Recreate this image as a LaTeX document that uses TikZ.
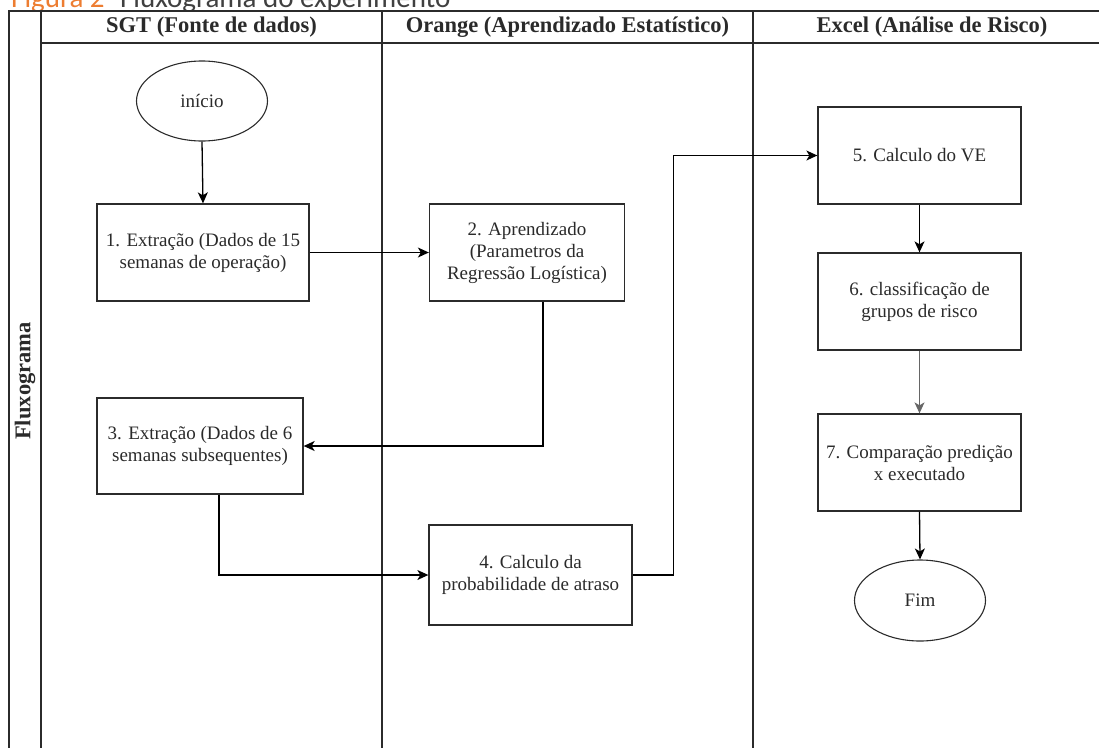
\documentclass[tikz,border=0pt]{standalone}
\usepackage{fontspec}
\setmainfont{Liberation Serif}
\newfontfamily\capfont{Carlito}
\usetikzlibrary{arrows.meta,shapes.geometric}
\definecolor{capor}{HTML}{ED7D31}
\definecolor{capgr}{HTML}{404040}
\definecolor{frame}{HTML}{2B2B2B}
\definecolor{txt}{HTML}{2A2A2A}
\tikzset{
  procbox/.style={draw=frame, line width=1.3pt, rectangle, minimum width=#1, minimum height=97pt, inner sep=0pt, align=center, text=txt, font=\fontsize{19}{22}\selectfont},
  term/.style={draw=frame, line width=1.1pt, ellipse, minimum width=131pt, minimum height=80pt, inner sep=0pt, text=txt, font=\fontsize{19}{22}\selectfont},
  lanehead/.style={font=\bfseries\fontsize{22.5}{26}\selectfont, text=txt, anchor=base, inner sep=0pt},
  lane/.style={draw=frame, line width=1.4pt},
  arr/.style={draw=black, line width=1.3pt, -{Stealth[length=11pt,width=10pt,inset=3pt]}},
}
\begin{document}
\begin{tikzpicture}[x=1pt,y=-1pt]
\useasboundingbox (0,0) rectangle (1099,747);
\clip (0,0) rectangle (1099,747);
% caption
\node[anchor=base west, inner sep=0pt] (cap) at (11,7) {\capfont\fontsize{29}{31}\selectfont\textcolor{capor}{Figura 2}\textcolor{capgr}{ - Fluxograma do experimento}};
% pool frame
\draw[lane] (1110,11) -- (9,11) -- (9,760);
\draw[lane] (41,11) -- (41,760);
\draw[lane] (41,43) -- (1110,43);
\draw[lane] (382,11) -- (382,760);
\draw[lane] (753,11) -- (753,760);
\node[rotate=90, font=\bfseries\fontsize{22.5}{26}\selectfont, text=txt, inner sep=0pt] (pool) at (25,381) {Fluxograma};
% lane headers
\node[lanehead] (h1) at (211.5,32) {SGT (Fonte de dados)};
\node[lanehead] (h2) at (567.5,32) {Orange (Aprendizado Estatístico)};
\node[lanehead] (h3) at (932,32) {Excel (Análise de Risco)};
% nodes
\node[term] (ini) at (202,101) {início};
\node[procbox=212pt] (b1) at (203,252.5) {1. Extração (Dados de 15\\semanas de operação)};
\node[procbox=195pt] (b2) at (527,252.5) {2. Aprendizado\\(Parametros da\\Regressão Logística)};
\node[procbox=206pt, minimum height=96pt] (b3) at (200,446) {3. Extração (Dados de 6\\semanas subsequentes)};
\node[procbox=203pt, minimum height=100pt] (b4) at (530.5,575) {4. Calculo da\\probabilidade de atraso};
\node[procbox=203pt] (b5) at (919.5,155.5) {5. Calculo do VE};
\node[procbox=203pt] (b6) at (919.5,301.5) {6. classificação de\\grupos de risco};
\node[procbox=203pt] (b7) at (919.5,462.5) {7. Comparação predição\\x executado};
\node[term, minimum height=81pt] (fim) at (920,600.5) {Fim};
% connectors
\draw[arr] (ini.south) -- (b1.north);
\draw[arr] (b1.east) -- (b2.west);
\draw[arr] ([xshift=16pt]b2.south) |- (b3.east);
\draw[arr] ([xshift=19pt]b3.south) |- (b4.west);
\draw[arr] (b4.east) -- ++(41,0) |- (b5.west);
\draw[arr] (b5.south) -- (b6.north);
\draw[arr, draw=black!60] (b6.south) -- (b7.north);
\draw[arr] (b7.south) -- (fim.north);
\end{tikzpicture}
\end{document}
